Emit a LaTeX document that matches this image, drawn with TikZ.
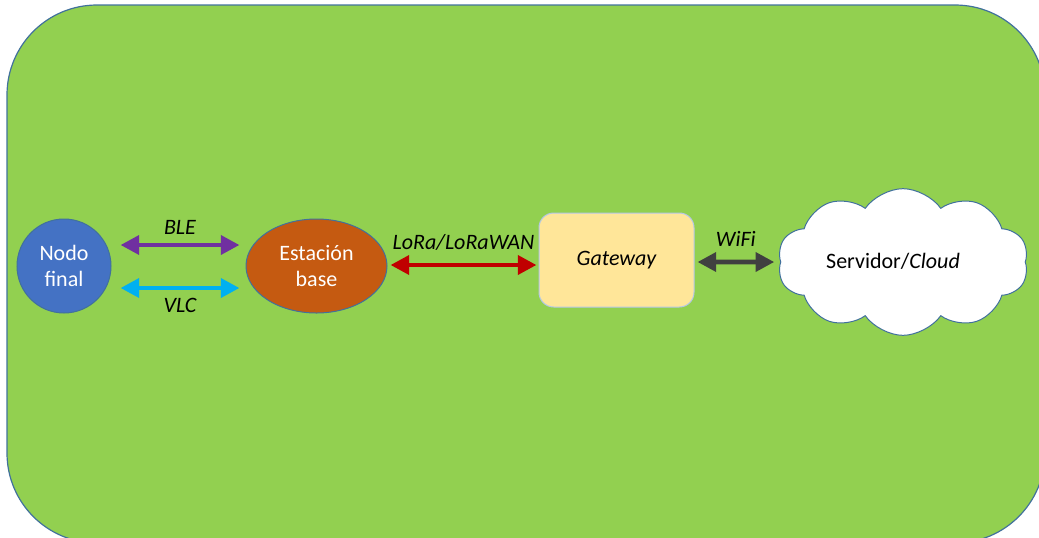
\documentclass[tikz,border=0pt]{standalone}
\usepackage{fontspec}
\setmainfont{Carlito}
\usetikzlibrary{arrows.meta,shapes.geometric,shapes.symbols,calc}

\definecolor{bggreen}{HTML}{92D050}
\definecolor{edgeblue}{HTML}{41719C}
\definecolor{nodeblue}{HTML}{4472C4}
\definecolor{baseorange}{HTML}{C55A11}
\definecolor{gwyellow}{HTML}{FFE699}
\definecolor{gwedge}{HTML}{B4C7E7}
\definecolor{blepurple}{HTML}{7030A0}
\definecolor{vlccyan}{HTML}{00B0F0}
\definecolor{lorared}{HTML}{C00000}
\definecolor{wifigray}{HTML}{404040}

\tikzset{
  link/.style={line width=3.4pt,
    {Triangle[length=14pt,width=14pt]}-{Triangle[length=14pt,width=14pt]}},
  lbl/.style={font=\fontsize{16.5}{19}\selectfont\itshape, inner sep=0pt, text=black},
  txt/.style={font=\fontsize{16.5}{20}\selectfont, align=center},
}

\begin{document}
\begin{tikzpicture}[x=0.75pt,y=-0.75pt]
  \useasboundingbox (0,0) rectangle (1039,537);

  % background panel
  \begin{scope}
    \clip (0,0) rectangle (1039,537);
    \draw[fill=bggreen, draw=edgeblue, line width=0.9pt, rounded corners=67.5pt]
      (7,5) rectangle (1045,543);
  \end{scope}

  % nodes
  \node[txt, circle, fill=nodeblue, draw=edgeblue, line width=0.75pt,
        minimum size=70.5pt, inner sep=0pt, text=white] (nodo) at (64,266)
        {Nodo\\final};
  \node[txt, ellipse, fill=baseorange, draw=edgeblue, line width=0.75pt,
        minimum width=105.75pt, minimum height=70.5pt, inner sep=0pt, text=white]
        (base) at (316.5,266) {Estación\\base};
  \node[txt, rectangle, rounded corners=11pt, fill=gwyellow, draw=gwedge,
        line width=0.75pt, minimum width=116.25pt, minimum height=70.5pt]
        (gw) at (616.5,260) {\itshape Gateway};
  \node[txt, cloud, cloud puffs=10, cloud puff arc=110, cloud ignores aspect,
        fill=white, draw=edgeblue, line width=0.75pt,
        minimum width=188pt, minimum height=110pt, inner sep=0pt]
        (cloud) at (903,262) {};
  \node[txt, inner sep=0pt] (cloudtxt) at (893,261) {Servidor/\textit{Cloud}};

  % links
  \draw[link, blepurple]
    ($(nodo.east)+(9,-21)$) -- ($(base.west)+(-6,-21)$)
    node[lbl, midway, above=6pt] {BLE};
  \draw[link, vlccyan]
    ($(nodo.east)+(9,22)$) -- ($(base.west)+(-6,22)$)
    node[lbl, midway, below=6pt] {VLC};
  \draw[link, lorared]
    ($(base.east)+(3,-1)$) -- ($(gw.west)+(-2,5)$)
    node[lbl, midway, above=9pt] {LoRa/LoRaWAN};
  \draw[link, wifigray]
    ($(gw.east)+(3,2)$) -- ($(cloud.west)+(-6,0)$)
    node[lbl, midway, above=10pt] {WiFi};
\end{tikzpicture}
\end{document}
